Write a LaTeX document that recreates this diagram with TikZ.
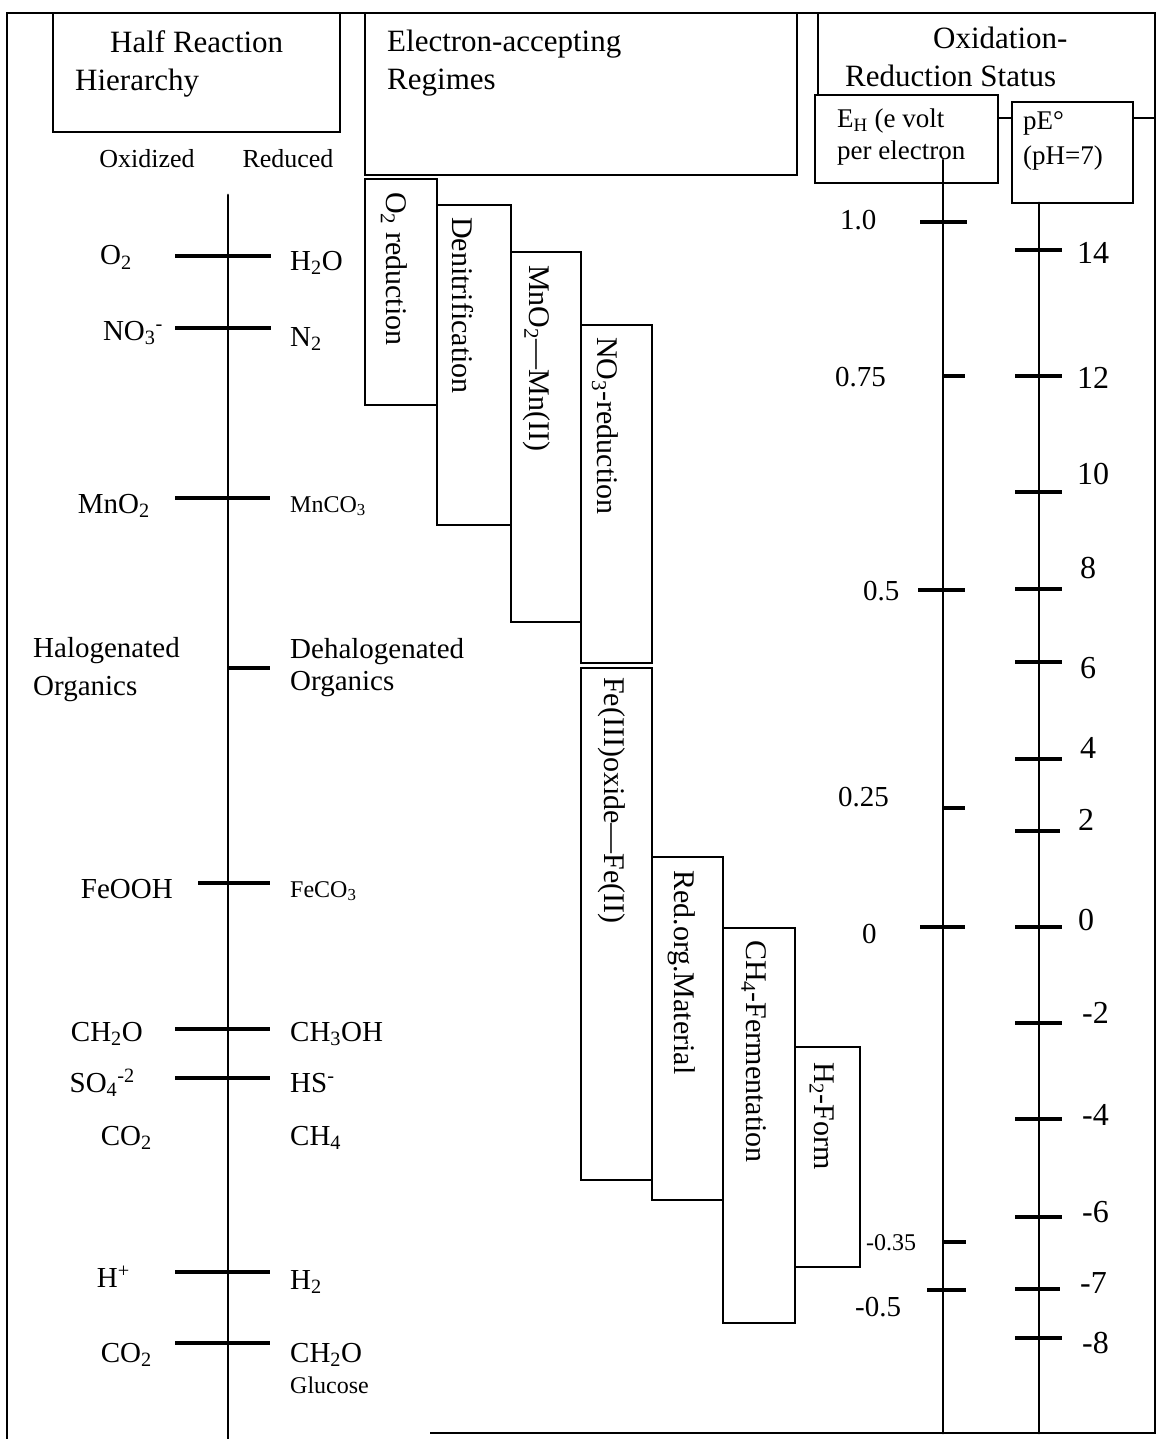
\documentclass[tikz,border=0pt]{standalone}
\usepackage{fontspec}
\setmainfont{Liberation Serif}
\usetikzlibrary{positioning,calc}

\begin{document}
\begin{tikzpicture}[x=1pt, y=-1pt,
    frameline/.style={line width=2.6pt},
    box/.style={draw, line width=2.6pt, fill=white},
    tickline/.style={line width=3.4pt},
    scaleline/.style={line width=2.8pt, line cap=round},
    headtxt/.style={font=\fontsize{31}{36}\selectfont, inner sep=0pt},
    boxtxt/.style={font=\fontsize{27}{32}\selectfont, inner sep=0pt},
    subtxt/.style={font=\fontsize{26}{30}\selectfont, inner sep=0pt},
    spectxt/.style={font=\fontsize{29}{34}\selectfont, inner sep=0pt},
    smalltxt/.style={font=\fontsize{24}{28}\selectfont, inner sep=0pt},
    regtxt/.style={font=\fontsize{30}{34}\selectfont, inner sep=0pt, rotate=-90, anchor=west},
    ehtxt/.style={font=\fontsize{29}{34}\selectfont, inner sep=0pt, anchor=base west},
    petxt/.style={font=\fontsize{32}{36}\selectfont, inner sep=0pt, anchor=base west}]
    \useasboundingbox (0,0) rectangle (1157,1439);
    \fill[white] (0,0) rectangle (1157,1439);

    % Frame
    \draw[frameline] (430,1433) -- (1155,1433) -- (1155,13) -- (7,13) -- (7,1439);

    % Headers
    \draw[box] (53,13) rectangle (340,132);
    \node[headtxt, anchor=base west] (hrh1) at (110,53) {Half Reaction};
    \node[headtxt, anchor=base west] (hrh2) at (75,91) {Hierarchy};

    \draw[box] (365,13) rectangle (797,175);
    \node[headtxt, anchor=base west] (ear1) at (387,52) {Electron-accepting};
    \node[headtxt, anchor=base west] (ear2) at (387,90) {Regimes};

    \draw[box] (818,13) rectangle (1155,118);
    \node[headtxt, anchor=base west] (ors1) at (933,49) {Oxidation-};
    \node[headtxt, anchor=base west] (ors2) at (845,87) {Reduction Status};

    \draw[box] (815,95) rectangle (998,183);
    \node[boxtxt, anchor=base west] (eh1) at (837,128) {E\textsubscript{H} (e volt};
    \node[boxtxt, anchor=base west] (eh2) at (837,160) {per electron};

    \draw[box] (1012,102) rectangle (1133,203);
    \node[boxtxt, anchor=base west] (pe1) at (1023,130) {pE°};
    \node[boxtxt, anchor=base west] (pe2) at (1023,165) {(pH=7)};

    % Half reaction scale
    \node[subtxt, anchor=base] (oxd) at (147,168) {Oxidized};
    \node[subtxt, anchor=base] (rdc) at (288,168) {Reduced};
    \coordinate (hrtop) at (228,195);
    \coordinate (hrbot) at (228,1439);
    \draw[scaleline] (hrtop) -- (hrbot);

    \draw[tickline] (175,256) -- (271,256);
    \node[spectxt, anchor=base east] (o2) at (132,265) {O\textsubscript{2}};
    \node[spectxt, anchor=base west] (h2o) at (290,270) {H\textsubscript{2}O};

    \draw[tickline] (175,328) -- (271,328);
    \node[spectxt, anchor=base east] (no3) at (163,340) {NO\textsubscript{3}\textsuperscript{-}};
    \node[spectxt, anchor=base west] (n2) at (290,346) {N\textsubscript{2}};

    \draw[tickline] (175,498) -- (270,498);
    \node[spectxt, anchor=base east] (mno2) at (150,513) {MnO\textsubscript{2}};
    \node[smalltxt, anchor=base west] (mnco3) at (290,512) {MnCO\textsubscript{3}};

    \draw[tickline] (228,668) -- (270,668);
    \node[spectxt, anchor=base west] (halo1) at (33,657) {Halogenated};
    \node[spectxt, anchor=base west] (halo2) at (33,695) {Organics};
    \node[spectxt, anchor=base west] (dehalo1) at (290,658) {Dehalogenated};
    \node[spectxt, anchor=base west] (dehalo2) at (290,690) {Organics};

    \draw[tickline] (198,883) -- (270,883);
    \node[spectxt, anchor=base east] (feooh) at (173,898) {FeOOH};
    \node[smalltxt, anchor=base west] (feco3) at (290,897) {FeCO\textsubscript{3}};

    \draw[tickline] (175,1029) -- (270,1029);
    \node[spectxt, anchor=base east] (ch2o) at (143,1041) {CH\textsubscript{2}O};
    \node[spectxt, anchor=base west] (ch3oh) at (290,1041) {CH\textsubscript{3}OH};

    \draw[tickline] (175,1078) -- (270,1078);
    \node[spectxt, anchor=base east] (so4) at (135,1092) {SO\textsubscript{4}\textsuperscript{-2}};
    \node[spectxt, anchor=base west] (hs) at (290,1092) {HS\textsuperscript{-}};

    \node[spectxt, anchor=base east] (co2a) at (152,1145) {CO\textsubscript{2}};
    \node[spectxt, anchor=base west] (ch4) at (290,1145) {CH\textsubscript{4}};

    \draw[tickline] (175,1272) -- (270,1272);
    \node[spectxt, anchor=base east] (hplus) at (130,1287) {H\textsuperscript{+}};
    \node[spectxt, anchor=base west] (h2) at (290,1289) {H\textsubscript{2}};

    \draw[tickline] (175,1343) -- (270,1343);
    \node[spectxt, anchor=base east] (co2b) at (152,1362) {CO\textsubscript{2}};
    \node[spectxt, anchor=base west] (ch2og) at (290,1362) {CH\textsubscript{2}O};
    \node[smalltxt, anchor=base west] (gluc) at (290,1393) {Glucose};

    % Regimes
    \draw[box] (365,179) rectangle (437,405);
    \node[regtxt] (o2r) at (394,192) {O\textsubscript{2} reduction};
    \draw[box] (437,205) rectangle (511,525);
    \node[regtxt] (den) at (463,217) {Denitrification};
    \draw[box] (511,252) rectangle (581,622);
    \node[regtxt] (mnr) at (537,265) {MnO\textsubscript{2}---Mn(II)};
    \draw[box] (581,325) rectangle (652,663);
    \node[regtxt] (no3r) at (605,337) {NO\textsubscript{3}-reduction};
    \draw[box] (581,668) rectangle (652,1180);
    \node[regtxt] (fer) at (612,677) {Fe(III)oxide---Fe(II)};
    \draw[box] (652,857) rectangle (723,1200);
    \node[regtxt] (rom) at (682,870) {Red.org.Material};
    \draw[box] (723,928) rectangle (795,1323);
    \node[regtxt] (ch4f) at (754,940) {CH\textsubscript{4}-Fermentation};
    \draw[box] (795,1047) rectangle (860,1267);
    \node[regtxt] (h2f) at (822,1062) {H\textsubscript{2}-Form};

    % E_H scale
    \coordinate (ehtop) at (943,160);
    \coordinate (ehbot) at (943,1433);
    \draw[scaleline] (ehtop) -- (ehbot);
    \draw[tickline] (920,222) -- (967,222);
    \draw[tickline] (943,376) -- (965,376);
    \draw[tickline] (918,590) -- (965,590);
    \draw[tickline] (943,808) -- (965,808);
    \draw[tickline] (920,927) -- (965,927);
    \draw[tickline] (943,1242) -- (966,1242);
    \draw[tickline] (927,1290) -- (966,1290);
    \node[ehtxt] (eh100) at (840,230) {1.0};
    \node[ehtxt] (eh075) at (835,386) {0.75};
    \node[ehtxt] (eh050) at (863,600) {0.5};
    \node[ehtxt] (eh025) at (838,806) {0.25};
    \node[ehtxt] (eh000) at (862,943) {0};
    \node[smalltxt, anchor=base west] (ehm035) at (866,1250) {-0.35};
    \node[ehtxt] (ehm050) at (855,1316) {-0.5};

    % pE scale
    \coordinate (petop) at (1039,203);
    \coordinate (pebot) at (1039,1433);
    \draw[scaleline] (petop) -- (pebot);
    \draw[tickline] (1015,250) -- (1062,250);
    \draw[tickline] (1015,376) -- (1062,376);
    \draw[tickline] (1015,492) -- (1062,492);
    \draw[tickline] (1015,589) -- (1062,589);
    \draw[tickline] (1015,662) -- (1062,662);
    \draw[tickline] (1015,759) -- (1062,759);
    \draw[tickline] (1015,831) -- (1060,831);
    \draw[tickline] (1015,927) -- (1062,927);
    \draw[tickline] (1015,1023) -- (1062,1023);
    \draw[tickline] (1015,1119) -- (1062,1119);
    \draw[tickline] (1015,1217) -- (1062,1217);
    \draw[tickline] (1015,1289) -- (1060,1289);
    \draw[tickline] (1015,1338) -- (1062,1338);
    \node[petxt] (pe14) at (1077,263) {14};
    \node[petxt] (pe12) at (1077,388) {12};
    \node[petxt] (pe10) at (1077,484) {10};
    \node[petxt] (pe8) at (1080,578) {8};
    \node[petxt] (pe6) at (1080,678) {6};
    \node[petxt] (pe4) at (1080,758) {4};
    \node[petxt] (pe2) at (1078,830) {2};
    \node[petxt] (pe0) at (1078,930) {0};
    \node[petxt] (pem2) at (1082,1023) {-2};
    \node[petxt] (pem4) at (1082,1125) {-4};
    \node[petxt] (pem6) at (1082,1222) {-6};
    \node[petxt] (pem7) at (1080,1293) {-7};
    \node[petxt] (pem8) at (1082,1353) {-8};
\end{tikzpicture}
\end{document}
